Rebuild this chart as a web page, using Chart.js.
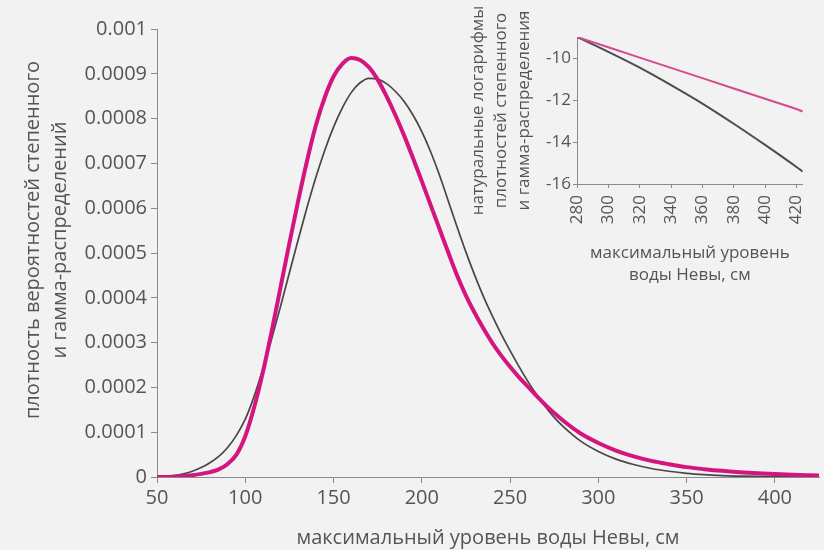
<!DOCTYPE html>
<html lang="ru">
<head>
<meta charset="utf-8">
<title>Максимальный уровень воды Невы</title>
<script src="https://cdn.jsdelivr.net/npm/chart.js@4.4.1/dist/chart.umd.min.js"></script>
<style>
    html, body {
        margin: 0;
        padding: 0;
        background: #f2f2f2;
    }
    #wrap {
        position: relative;
        width: 824px;
        height: 550px;
    }
    #mainChart {
        position: absolute;
        left: 0;
        top: 0;
    }
    #insetChart {
        position: absolute;
        left: 460px;
        top: 0;
    }
</style>
</head>
<body>
<div id="wrap">
    <canvas id="mainChart" width="824" height="550"></canvas>
    <canvas id="insetChart" width="364" height="290"></canvas>
</div>

<script>
// Water level, cm
const levels = [
    50, 55, 60, 65, 70, 75, 80, 85, 90, 95,
    100, 105, 110, 115, 120, 125, 130, 135, 140, 145,
    150, 155, 160, 165, 170, 175, 180, 185, 190, 195,
    200, 205, 210, 215, 220, 225, 230, 235, 240, 245,
    250, 255, 260, 265, 270, 275, 280,
    290, 300, 310, 320, 330, 340, 350, 360, 370, 380, 390, 400, 410, 420, 425
];

// Power-law density
const powerDensity = [
    0, 0, 0.000001, 0.000002, 0.000004, 0.000007, 0.000011, 0.000017, 0.000029, 0.00005,
    0.000091, 0.000155, 0.000234, 0.000326, 0.000424, 0.000522, 0.000617, 0.000706, 0.000785, 0.000847,
    0.000894, 0.000922, 0.000935, 0.000931, 0.000915, 0.000887, 0.00085, 0.000808, 0.000762, 0.000712,
    0.00066, 0.000607, 0.000554, 0.000501, 0.00045, 0.000405, 0.000366, 0.000331, 0.000299, 0.000271,
    0.000246, 0.000223, 0.000202, 0.000181, 0.000161, 0.000143, 0.000126,
    0.000097, 0.000076, 0.000059, 0.000046, 0.000036, 0.0000285, 0.000022, 0.0000175, 0.0000137,
    0.0000107, 0.0000083, 0.0000065, 0.0000051, 0.000004, 0.0000035
];

// Gamma density
const gammaDensity = [
    0, 0.000001, 0.000003, 0.000007, 0.000013, 0.000021, 0.000032, 0.000046, 0.000066, 0.000093,
    0.000129, 0.00018, 0.000242, 0.000309, 0.000381, 0.000456, 0.00053, 0.000602, 0.000669, 0.000729,
    0.000781, 0.000824, 0.000858, 0.00088, 0.00089, 0.000888, 0.000878, 0.000861, 0.000838, 0.000808,
    0.000771, 0.000726, 0.000674, 0.000616, 0.000558, 0.000502, 0.00045, 0.000402, 0.000359, 0.000319,
    0.000282, 0.000247, 0.000214, 0.000184, 0.000157, 0.000133, 0.000113,
    0.00008, 0.000057, 0.00004, 0.000028, 0.000019, 0.0000128, 0.0000082, 0.0000052, 0.0000032,
    0.000002, 0.0000012, 0.00000072, 0.00000042, 0.00000025, 0.0000002
];

// Natural logs of both densities in the upper tail
const tailLevels = [280, 300, 320, 340, 360, 380, 400, 420, 424];
const tailLnPower = [-9.0, -9.49, -9.98, -10.47, -10.96, -11.45, -11.94, -12.43, -12.55];
const tailLnGamma = [-9.0, -9.71, -10.46, -11.29, -12.17, -13.13, -14.14, -15.19, -15.41];

const mainYTitle = ['плотность вероятностей степенного', 'и гамма-распределений'];
const mainXTitle = 'максимальный уровень воды Невы, см';
const insetYTitle = ['натуральные логарифмы', 'плотностей степенного', 'и гамма-распределения'];
const insetXTitle = ['максимальный уровень', 'воды Невы, см'];

const FONT = "'Open Sans', sans-serif";
const TEXT = '#555555';
const AXIS = '#8a8a8a';
const MAGENTA = '#d4157f';
const GREY = '#474747';

Chart.defaults.font.family = FONT;
Chart.defaults.color = TEXT;

// Rotated multi-line title for the main y axis, drawn at a fixed centre
const sideTitle = {
    id: 'sideTitle',
    afterDraw(chart, args, opts) {
        const ctx = chart.ctx;
        ctx.save();
        ctx.translate(opts.x, opts.y);
        ctx.rotate(-Math.PI / 2);
        ctx.font = opts.size + 'px ' + FONT;
        ctx.fillStyle = TEXT;
        ctx.textAlign = 'center';
        ctx.textBaseline = 'middle';
        opts.lines.forEach((line, i) => ctx.fillText(line, 0, i * opts.lineHeight));
        ctx.restore();
    }
};

function toPoints(xs, ys) {
    return xs.map((x, i) => ({ x: x, y: ys[i] }));
}

function drawMainChart() {
    const ctx = document.getElementById('mainChart').getContext('2d');

    new Chart(ctx, {
        type: 'line',
        data: {
            datasets: [{
                data: toPoints(levels, powerDensity),
                borderColor: MAGENTA,
                borderWidth: 4,
                cubicInterpolationMode: 'monotone',
                pointRadius: 0
            }, {
                data: toPoints(levels, gammaDensity),
                borderColor: GREY,
                borderWidth: 1.7,
                cubicInterpolationMode: 'monotone',
                pointRadius: 0
            }]
        },
        plugins: [sideTitle],
        options: {
            responsive: false,
            animation: false,
            layout: {
                padding: { left: 0, top: 29, right: 5, bottom: 0 }
            },
            plugins: {
                legend: { display: false },
                tooltip: { enabled: false },
                sideTitle: { lines: mainYTitle, x: 33, y: 240, size: 20, lineHeight: 27 }
            },
            scales: {
                x: {
                    type: 'linear',
                    min: 50,
                    max: 425,
                    afterFit: scale => { scale.height = 73; },
                    border: { color: AXIS, width: 1 },
                    grid: { drawOnChartArea: false, color: AXIS, tickLength: 6 },
                    ticks: {
                        stepSize: 50,
                        includeBounds: false,
                        padding: 3,
                        maxRotation: 0,
                        font: { size: 20 },
                        color: TEXT
                    },
                    title: {
                        display: true,
                        text: mainXTitle,
                        font: { size: 20 },
                        color: TEXT,
                        padding: { top: 0, bottom: 0 }
                    }
                },
                y: {
                    min: 0,
                    max: 0.001,
                    afterFit: scale => { scale.width = 157; },
                    border: { color: AXIS, width: 1 },
                    grid: { drawOnChartArea: false, color: AXIS, tickLength: 6 },
                    ticks: {
                        stepSize: 0.0001,
                        padding: 4,
                        font: { size: 20 },
                        color: TEXT,
                        callback: value => String(Number(value.toFixed(4)))
                    }
                }
            }
        }
    });
}

function drawInsetChart() {
    const ctx = document.getElementById('insetChart').getContext('2d');

    new Chart(ctx, {
        type: 'line',
        data: {
            datasets: [{
                data: toPoints(tailLevels, tailLnPower),
                borderColor: '#d64a8c',
                borderWidth: 2,
                tension: 0,
                pointRadius: 0
            }, {
                data: toPoints(tailLevels, tailLnGamma),
                borderColor: '#4d4d4d',
                borderWidth: 2,
                cubicInterpolationMode: 'monotone',
                pointRadius: 0
            }]
        },
        options: {
            responsive: false,
            animation: false,
            layout: {
                padding: { left: 0, top: 37, right: 5, bottom: 0 }
            },
            plugins: {
                legend: { display: false },
                tooltip: { enabled: false }
            },
            scales: {
                x: {
                    type: 'linear',
                    min: 280,
                    max: 424,
                    afterFit: scale => { scale.height = 106; },
                    border: { color: AXIS, width: 1 },
                    grid: { drawOnChartArea: false, color: AXIS, tickLength: 4 },
                    ticks: {
                        stepSize: 20,
                        includeBounds: false,
                        padding: 7,
                        minRotation: 90,
                        maxRotation: 90,
                        font: { size: 17 },
                        color: TEXT
                    },
                    title: {
                        display: true,
                        text: insetXTitle,
                        font: { size: 17, lineHeight: 1.3 },
                        color: TEXT,
                        padding: { top: 0, bottom: 4 }
                    }
                },
                y: {
                    min: -16,
                    max: -9,
                    afterFit: scale => { scale.width = 117; },
                    border: { color: AXIS, width: 1 },
                    grid: { drawOnChartArea: false, color: AXIS, tickLength: 4 },
                    ticks: {
                        stepSize: 1,
                        padding: 2,
                        font: { size: 17 },
                        color: TEXT,
                        callback: value => (value % 2 === 0 ? String(value) : '')
                    },
                    title: {
                        display: true,
                        text: insetYTitle,
                        font: { size: 17, lineHeight: 1.35 },
                        color: TEXT,
                        padding: { top: 7, bottom: 0 }
                    }
                }
            }
        }
    });
}

document.addEventListener('DOMContentLoaded', function() {
    drawMainChart();
    drawInsetChart();
});
</script>
</body>
</html>
